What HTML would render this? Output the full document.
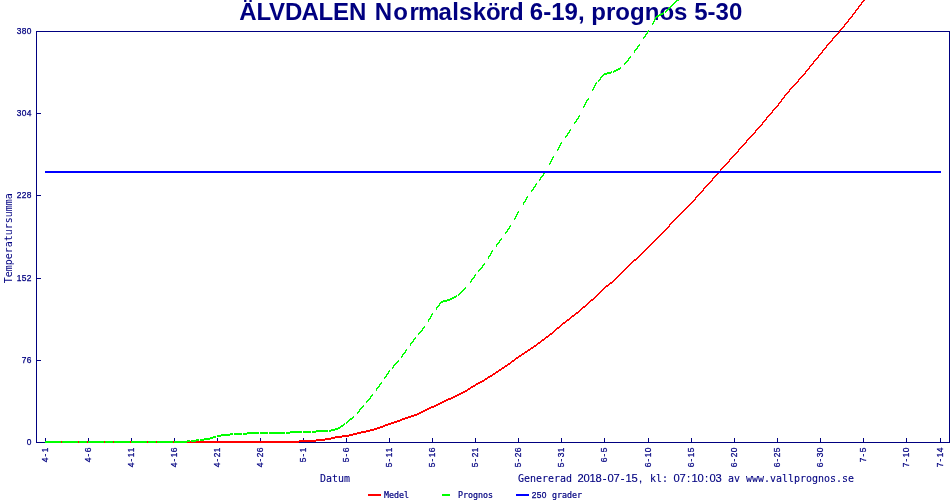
<!DOCTYPE html>
<html lang="sv"><head><meta charset="utf-8"><title>ÄLVDALEN Normalskörd</title>
<style>html,body{margin:0;padding:0;background:#fff;overflow:hidden}svg{display:block;will-change:transform}</style>
</head><body>
<svg width="950" height="500" viewBox="0 0 950 500">
<rect width="950" height="500" fill="#fff"/>
<text x="239.15 256.49 269.10 284.96 301.57 318.61 333.00 348.93 367.18 374.86 393.32 409.40 417.95 438.41 452.19 459.08 472.74 486.11 500.00 509.06 523.13 529.82 543.19 551.19 564.57 577.93 584.63 591.32 605.99 615.35 630.04 644.71 659.40 674.07 687.44 694.13 707.49 715.50 728.88" y="20" font-family="'Liberation Sans', Arial, sans-serif" font-weight="700" font-size="24" fill="#000080">ÄLVDALEN Normalskörd 6-19, prognos 5-30</text>
<path d="M36 31h914v1h-914zM36 442h914v1h-914zM36 31h1v412h-1zM949 31h1v412h-1zM37 442h4v1h-4zM37 360h4v1h-4zM37 278h4v1h-4zM37 195h4v1h-4zM37 113h4v1h-4zM37 31h4v1h-4zM45 438h1v4h-1zM88 438h1v4h-1zM131 438h1v4h-1zM174 438h1v4h-1zM217 438h1v4h-1zM260 438h1v4h-1zM303 438h1v4h-1zM346 438h1v4h-1zM389 438h1v4h-1zM432 438h1v4h-1zM475 438h1v4h-1zM518 438h1v4h-1zM561 438h1v4h-1zM604 438h1v4h-1zM648 438h1v4h-1zM691 438h1v4h-1zM734 438h1v4h-1zM777 438h1v4h-1zM820 438h1v4h-1zM863 438h1v4h-1zM906 438h1v4h-1zM940 438h1v4h-1z" fill="#000080" shape-rendering="crispEdges"/>
<path d="M45 442h254v1h-254zM45 441h271v1h-271zM299 440h26v1h-26zM316 439h15v1h-15zM325 438h10v1h-10zM331 437h11v1h-11zM335 436h14v1h-14zM342 435h11v1h-11zM349 434h8v1h-8zM353 433h8v1h-8zM357 432h9v1h-9zM361 431h9v1h-9zM366 430h8v1h-8zM370 429h7v1h-7zM374 428h6v1h-6zM377 427h6v1h-6zM380 426h5v1h-5zM383 425h5v1h-5zM385 424h6v1h-6zM388 423h6v1h-6zM391 422h6v1h-6zM394 421h6v1h-6zM397 420h5v1h-5zM400 419h5v1h-5zM402 418h6v1h-6zM405 417h6v1h-6zM408 416h6v1h-6zM411 415h6v1h-6zM414 414h5v1h-5zM417 413h4v1h-4zM419 412h4v1h-4zM421 411h4v1h-4zM423 410h4v1h-4zM425 409h4v1h-4zM427 408h4v1h-4zM429 407h5v1h-5zM431 406h5v1h-5zM434 405h4v1h-4zM436 404h4v1h-4zM438 403h4v1h-4zM440 402h4v1h-4zM442 401h4v1h-4zM444 400h4v1h-4zM446 399h5v1h-5zM448 398h5v1h-5zM451 397h4v1h-4zM453 396h4v1h-4zM455 395h4v1h-4zM457 394h4v1h-4zM459 393h4v1h-4zM461 392h4v1h-4zM463 391h4v1h-4zM465 390h3v1h-3zM467 389h3v1h-3zM468 388h3v1h-3zM470 387h3v1h-3zM471 386h4v1h-4zM473 385h3v1h-3zM475 384h3v1h-3zM476 383h4v1h-4zM478 382h4v1h-4zM480 381h4v1h-4zM482 380h3v1h-3zM484 379h3v1h-3zM485 378h3v1h-3zM487 377h3v1h-3zM488 376h4v1h-4zM490 375h3v1h-3zM492 374h3v1h-3zM493 373h3v1h-3zM495 372h3v1h-3zM496 371h3v1h-3zM498 370h3v1h-3zM499 369h3v1h-3zM501 368h3v1h-3zM502 367h3v1h-3zM504 366h3v1h-3zM505 365h3v1h-3zM507 364h3v1h-3zM508 363h3v1h-3zM510 362h2v1h-2zM511 361h3v1h-3zM512 360h3v1h-3zM514 359h2v1h-2zM515 358h3v1h-3zM516 357h3v1h-3zM518 356h3v1h-3zM519 355h3v1h-3zM521 354h3v1h-3zM522 353h3v1h-3zM524 352h3v1h-3zM525 351h3v1h-3zM527 350h3v1h-3zM528 349h3v1h-3zM530 348h3v1h-3zM531 347h3v1h-3zM533 346h3v1h-3zM534 345h3v1h-3zM536 344h2v1h-2zM537 343h3v1h-3zM538 342h3v1h-3zM540 341h2v1h-2zM541 340h3v1h-3zM542 339h3v1h-3zM544 338h2v1h-2zM545 337h3v1h-3zM546 336h3v1h-3zM548 335h2v1h-2zM549 334h3v1h-3zM550 333h3v1h-3zM552 332h2v1h-2zM553 331h2v1h-2zM554 330h2v1h-2zM555 329h2v1h-2zM556 328h3v1h-3zM557 327h3v1h-3zM559 326h2v1h-2zM560 325h2v1h-2zM561 324h2v1h-2zM562 323h3v1h-3zM563 322h3v1h-3zM565 321h2v1h-2zM566 320h3v1h-3zM567 319h3v1h-3zM569 318h2v1h-2zM570 317h2v1h-2zM571 316h3v1h-3zM572 315h3v1h-3zM574 314h2v1h-2zM575 313h3v1h-3zM576 312h3v1h-3zM578 311h2v1h-2zM579 310h2v1h-2zM580 309h2v1h-2zM581 308h2v1h-2zM582 307h3v1h-3zM583 306h3v1h-3zM585 305h2v1h-2zM586 304h2v1h-2zM587 303h2v1h-2zM588 302h2v1h-2zM589 301h2v1h-2zM590 300h3v1h-3zM591 299h3v1h-3zM593 298h2v1h-2zM594 297h2v1h-2zM595 296h2v1h-2zM596 295h2v1h-2zM597 294h2v1h-2zM598 293h2v1h-2zM599 292h2v1h-2zM600 291h2v1h-2zM601 290h2v1h-2zM602 289h2v1h-2zM603 288h2v1h-2zM604 287h2v1h-2zM605 286h3v1h-3zM606 285h3v1h-3zM608 284h2v1h-2zM609 283h3v1h-3zM610 282h3v1h-3zM612 281h2v1h-2zM613 280h2v1h-2zM614 279h2v1h-2zM615 278h2v1h-2zM616 277h2v1h-2zM617 276h2v1h-2zM618 275h2v1h-2zM619 274h2v1h-2zM620 273h2v1h-2zM621 272h2v1h-2zM622 271h2v1h-2zM623 270h2v1h-2zM624 269h2v1h-2zM625 268h2v1h-2zM626 267h2v1h-2zM627 266h2v1h-2zM628 265h2v1h-2zM629 264h2v1h-2zM630 263h2v1h-2zM631 262h2v1h-2zM632 261h2v1h-2zM633 260h3v1h-3zM634 259h3v1h-3zM636 258h2v1h-2zM637 257h2v1h-2zM638 256h2v1h-2zM639 255h2v1h-2zM640 254h2v1h-2zM641 253h2v1h-2zM642 252h2v1h-2zM643 251h2v1h-2zM644 250h2v1h-2zM645 249h2v1h-2zM646 248h2v1h-2zM647 247h2v1h-2zM648 246h2v1h-2zM649 245h2v1h-2zM650 244h2v1h-2zM651 243h2v1h-2zM652 242h2v1h-2zM653 241h2v1h-2zM654 240h2v1h-2zM655 239h2v1h-2zM656 238h2v1h-2zM657 237h2v1h-2zM658 236h2v1h-2zM659 235h2v1h-2zM660 234h2v1h-2zM661 233h2v1h-2zM662 232h2v1h-2zM663 231h2v1h-2zM664 230h2v1h-2zM665 229h2v1h-2zM666 228h2v1h-2zM667 227h2v1h-2zM668 226h2v1h-2zM669 225h1v1h-1zM669 224h2v1h-2zM670 223h2v1h-2zM671 222h2v1h-2zM672 221h2v1h-2zM673 220h2v1h-2zM674 219h2v1h-2zM675 218h2v1h-2zM676 217h2v1h-2zM677 216h2v1h-2zM678 215h2v1h-2zM679 214h2v1h-2zM680 213h2v1h-2zM681 212h2v1h-2zM682 211h2v1h-2zM683 210h2v1h-2zM684 209h2v1h-2zM685 208h2v1h-2zM686 207h2v1h-2zM687 206h2v1h-2zM688 205h2v1h-2zM689 204h2v1h-2zM690 203h2v1h-2zM691 202h2v1h-2zM692 201h2v1h-2zM693 200h2v1h-2zM694 199h2v1h-2zM695 198h1v1h-1zM695 197h2v1h-2zM696 196h2v1h-2zM697 195h2v1h-2zM698 194h2v1h-2zM699 193h2v1h-2zM700 192h2v1h-2zM701 191h2v1h-2zM702 190h2v1h-2zM703 189h1v1h-1zM703 188h2v1h-2zM704 187h2v1h-2zM705 186h2v1h-2zM706 185h2v1h-2zM707 184h2v1h-2zM708 183h2v1h-2zM709 182h2v1h-2zM710 181h2v1h-2zM711 180h2v1h-2zM712 179h1v1h-1zM712 178h2v1h-2zM713 177h2v1h-2zM714 176h2v1h-2zM715 175h2v1h-2zM716 174h2v1h-2zM717 173h2v1h-2zM718 172h2v1h-2zM719 171h2v1h-2zM720 170h1v1h-1zM720 169h2v1h-2zM721 168h2v1h-2zM722 167h2v1h-2zM723 166h2v1h-2zM724 165h2v1h-2zM725 164h2v1h-2zM726 163h2v1h-2zM727 162h2v1h-2zM728 161h2v1h-2zM729 160h1v1h-1zM729 159h2v1h-2zM730 158h2v1h-2zM731 157h2v1h-2zM732 156h2v1h-2zM733 155h2v1h-2zM734 154h2v1h-2zM735 153h2v1h-2zM736 152h2v1h-2zM737 151h2v1h-2zM738 150h1v1h-1zM738 149h2v1h-2zM739 148h2v1h-2zM740 147h2v1h-2zM741 146h2v1h-2zM742 145h2v1h-2zM743 144h2v1h-2zM744 143h2v1h-2zM745 142h2v1h-2zM746 141h1v1h-1zM746 140h2v1h-2zM747 139h2v1h-2zM748 138h2v1h-2zM749 137h2v1h-2zM750 136h2v1h-2zM751 135h2v1h-2zM752 134h2v1h-2zM753 133h2v1h-2zM754 132h2v1h-2zM755 131h1v1h-1zM755 130h2v1h-2zM756 129h2v1h-2zM757 128h2v1h-2zM758 127h2v1h-2zM759 126h2v1h-2zM760 125h2v1h-2zM761 124h2v1h-2zM762 123h1v1h-1zM762 122h2v1h-2zM763 121h2v1h-2zM764 120h2v1h-2zM765 119h2v1h-2zM766 118h1v1h-1zM766 117h2v1h-2zM767 116h2v1h-2zM768 115h2v1h-2zM769 114h2v1h-2zM770 113h2v1h-2zM771 112h2v1h-2zM772 111h1v1h-1zM772 110h2v1h-2zM773 109h2v1h-2zM774 108h2v1h-2zM775 107h2v1h-2zM776 106h2v1h-2zM777 105h2v1h-2zM778 104h1v1h-1zM778 103h2v1h-2zM779 102h2v1h-2zM780 101h2v1h-2zM781 100h1v1h-1zM781 99h2v1h-2zM782 98h2v1h-2zM783 97h2v1h-2zM784 96h1v1h-1zM784 95h2v1h-2zM785 94h2v1h-2zM786 93h2v1h-2zM787 92h2v1h-2zM788 91h2v1h-2zM789 90h1v1h-1zM789 89h2v1h-2zM790 88h2v1h-2zM791 87h2v1h-2zM792 86h2v1h-2zM793 85h2v1h-2zM794 84h2v1h-2zM795 83h2v1h-2zM796 82h2v1h-2zM797 81h2v1h-2zM798 80h1v1h-1zM798 79h2v1h-2zM799 78h2v1h-2zM800 77h2v1h-2zM801 76h2v1h-2zM802 75h2v1h-2zM803 74h2v1h-2zM804 73h2v1h-2zM805 72h1v1h-1zM805 71h2v1h-2zM806 70h2v1h-2zM807 69h2v1h-2zM808 68h2v1h-2zM809 67h1v1h-1zM809 66h2v1h-2zM810 65h2v1h-2zM811 64h2v1h-2zM812 63h2v1h-2zM813 62h1v1h-1zM813 61h2v1h-2zM814 60h2v1h-2zM815 59h2v1h-2zM816 58h2v1h-2zM817 57h2v1h-2zM818 56h1v1h-1zM818 55h2v1h-2zM819 54h2v1h-2zM820 53h2v1h-2zM821 52h2v1h-2zM822 51h1v1h-1zM822 50h2v1h-2zM823 49h2v1h-2zM824 48h2v1h-2zM825 47h2v1h-2zM826 46h1v1h-1zM826 45h2v1h-2zM827 44h2v1h-2zM828 43h2v1h-2zM829 42h2v1h-2zM830 41h2v1h-2zM831 40h2v1h-2zM832 39h1v1h-1zM832 38h2v1h-2zM833 37h2v1h-2zM834 36h2v1h-2zM835 35h2v1h-2zM836 34h2v1h-2zM837 33h2v1h-2zM838 32h2v1h-2zM839 31h1v1h-1zM839 30h2v1h-2zM840 29h2v1h-2zM841 28h2v1h-2zM842 27h2v1h-2zM843 26h2v1h-2zM844 25h1v1h-1zM844 24h2v1h-2zM845 23h2v1h-2zM846 22h2v1h-2zM847 21h2v1h-2zM848 20h1v1h-1zM848 19h2v1h-2zM849 18h2v1h-2zM850 17h2v1h-2zM851 16h2v1h-2zM852 15h1v1h-1zM852 14h2v1h-2zM853 13h2v1h-2zM854 12h2v1h-2zM855 11h1v1h-1zM855 10h2v1h-2zM856 9h2v1h-2zM857 8h2v1h-2zM858 7h1v1h-1zM858 6h2v1h-2zM859 5h2v1h-2zM860 4h2v1h-2zM861 3h1v1h-1zM861 2h2v1h-2zM862 1h2v1h-2zM863 0h2v1h-2z" fill="#ff0000" shape-rendering="crispEdges"/>
<path d="M45 441h16v2h-16zM62 441h16v2h-16zM79 441h8v2h-8zM88 441h16v2h-16zM105 441h8v2h-8zM114 441h16v2h-16zM131 441h16v2h-16zM148 441h8v2h-8zM157 441h16v2h-16zM174 442h13v1h-13zM174 441h16v1h-16zM187 440h3v1h-3zM191 441h5v1h-5zM191 440h8v1h-8zM196 439h3v1h-3zM200 440h4v1h-4zM200 439h10v1h-10zM204 438h9v1h-9zM210 437h6v1h-6zM213 436h3v1h-3zM217 436h4v1h-4zM217 435h13v1h-13zM221 434h12v1h-12zM230 433h3v1h-3zM234 433h8v2h-8zM243 434h4v1h-4zM243 433h16v1h-16zM247 432h12v1h-12zM260 432h8v2h-8zM269 432h16v2h-16zM286 433h4v1h-4zM286 432h16v1h-16zM290 431h12v1h-12zM303 431h8v2h-8zM312 432h4v1h-4zM312 431h16v1h-16zM316 430h12v1h-12zM329 431h2v1h-2zM329 430h6v1h-6zM331 429h7v1h-7zM335 428h5v1h-5zM338 427h3v1h-3zM340 426h3v1h-3zM341 425h3v1h-3zM343 424h2v1h-2zM344 423h1v1h-1zM346 423h1v1h-1zM346 422h2v1h-2zM347 421h2v1h-2zM348 420h2v1h-2zM349 419h3v1h-3zM350 418h3v1h-3zM352 417h2v1h-2zM353 416h1v1h-1zM357 413h1v1h-1zM357 412h2v1h-2zM358 411h2v1h-2zM359 410h1v1h-1zM359 409h2v1h-2zM360 408h2v1h-2zM361 407h2v1h-2zM362 406h2v1h-2zM363 405h1v1h-1zM366 402h1v1h-1zM366 401h2v1h-2zM367 400h2v1h-2zM368 399h2v1h-2zM369 398h2v1h-2zM370 397h1v1h-1zM370 396h2v1h-2zM371 395h2v1h-2zM372 394h1v1h-1zM376 389h1v2h-1zM376 388h2v1h-2zM377 387h2v1h-2zM378 386h2v1h-2zM379 385h1v1h-1zM379 384h2v1h-2zM380 383h2v1h-2zM381 382h1v1h-1zM384 378h1v1h-1zM384 377h2v1h-2zM385 376h2v1h-2zM386 375h1v1h-1zM386 374h2v1h-2zM387 373h2v1h-2zM388 372h1v1h-1zM388 371h2v1h-2zM389 370h1v1h-1zM392 368h1v1h-1zM392 367h2v1h-2zM393 366h1v1h-1zM393 365h2v1h-2zM394 364h2v1h-2zM395 363h2v1h-2zM396 362h2v1h-2zM397 361h2v1h-2zM398 360h1v1h-1zM401 357h1v1h-1zM401 356h2v1h-2zM402 355h1v1h-1zM402 354h2v1h-2zM403 353h2v1h-2zM404 352h2v1h-2zM405 351h1v1h-1zM405 350h2v1h-2zM406 349h1v1h-1zM410 344h1v2h-1zM410 343h2v1h-2zM411 342h2v1h-2zM412 341h2v1h-2zM413 340h1v1h-1zM413 339h2v1h-2zM414 338h2v1h-2zM415 337h1v1h-1zM418 334h1v1h-1zM418 333h2v1h-2zM419 332h2v1h-2zM420 331h2v1h-2zM421 330h2v1h-2zM422 329h1v1h-1zM422 328h2v1h-2zM423 327h2v1h-2zM424 326h1v1h-1zM428 320h1v2h-1zM428 319h2v1h-2zM429 318h2v1h-2zM430 317h1v1h-1zM430 316h2v1h-2zM431 315h1v1h-1zM431 314h2v1h-2zM432 313h1v1h-1zM436 308h1v2h-1zM436 307h2v1h-2zM437 306h2v1h-2zM438 305h2v1h-2zM439 304h1v1h-1zM439 303h2v1h-2zM440 302h3v1h-3zM441 301h6v1h-6zM443 300h7v1h-7zM447 299h5v1h-5zM450 298h4v1h-4zM452 297h4v1h-4zM454 296h3v1h-3zM456 295h1v1h-1zM458 295h1v1h-1zM458 294h2v1h-2zM459 293h2v1h-2zM460 292h2v1h-2zM461 291h2v1h-2zM462 290h2v1h-2zM463 289h2v1h-2zM464 288h2v1h-2zM465 287h1v1h-1zM470 282h1v1h-1zM470 281h2v1h-2zM471 280h1v1h-1zM471 279h2v1h-2zM472 278h2v1h-2zM473 277h2v1h-2zM474 276h1v1h-1zM474 275h2v1h-2zM475 274h1v1h-1zM478 271h1v1h-1zM478 270h2v1h-2zM479 269h2v1h-2zM480 268h2v1h-2zM481 267h2v1h-2zM482 266h1v1h-1zM482 265h2v1h-2zM483 264h2v1h-2zM484 263h1v1h-1zM488 257h1v2h-1zM488 256h2v1h-2zM489 255h2v1h-2zM490 254h1v1h-1zM490 253h2v1h-2zM491 252h1v1h-1zM491 251h2v1h-2zM492 250h1v1h-1zM496 245h1v2h-1zM496 244h2v1h-2zM497 243h2v1h-2zM498 242h2v1h-2zM499 241h1v1h-1zM499 240h2v1h-2zM500 239h2v1h-2zM501 238h1v1h-1zM505 233h1v1h-1zM505 232h2v1h-2zM506 231h2v1h-2zM507 230h1v1h-1zM507 229h2v1h-2zM508 228h2v1h-2zM509 227h1v1h-1zM509 226h2v1h-2zM510 225h1v1h-1zM514 219h1v1h-1zM514 218h2v1h-2zM515 217h1v1h-1zM515 216h2v1h-2zM516 215h1v1h-1zM516 214h2v1h-2zM517 213h1v1h-1zM517 212h2v1h-2zM518 211h1v1h-1zM523 203h1v2h-1zM523 202h2v1h-2zM524 201h2v1h-2zM525 200h1v1h-1zM525 199h2v1h-2zM526 198h1v1h-1zM526 197h2v1h-2zM527 196h1v1h-1zM531 191h1v1h-1zM531 190h2v1h-2zM532 189h2v1h-2zM533 188h1v1h-1zM533 187h2v1h-2zM534 186h2v1h-2zM535 185h1v1h-1zM535 184h2v1h-2zM536 183h1v1h-1zM539 180h1v1h-1zM539 179h2v1h-2zM540 178h1v1h-1zM540 177h2v1h-2zM541 176h2v1h-2zM542 175h2v1h-2zM543 174h1v1h-1zM543 173h2v1h-2zM544 172h1v1h-1zM549 164h1v1h-1zM549 163h2v1h-2zM550 162h1v1h-1zM550 161h2v1h-2zM551 160h1v1h-1zM551 159h2v1h-2zM552 158h1v1h-1zM552 157h2v1h-2zM553 156h1v1h-1zM557 150h1v1h-1zM557 149h2v1h-2zM558 148h1v1h-1zM558 147h2v1h-2zM559 146h1v1h-1zM559 145h2v1h-2zM560 144h1v1h-1zM560 143h2v1h-2zM561 142h1v1h-1zM565 137h1v1h-1zM565 136h2v1h-2zM566 135h2v1h-2zM567 134h1v1h-1zM567 133h2v1h-2zM568 132h2v1h-2zM569 131h1v1h-1zM569 130h2v1h-2zM570 129h1v1h-1zM574 123h1v1h-1zM574 122h2v1h-2zM575 121h2v1h-2zM576 120h1v1h-1zM576 119h2v1h-2zM577 118h2v1h-2zM578 117h1v1h-1zM578 116h2v1h-2zM579 115h1v1h-1zM583 107h1v1h-1zM583 106h2v1h-2zM584 105h1v1h-1zM584 104h2v1h-2zM585 103h1v1h-1zM585 102h2v1h-2zM586 101h1v1h-1zM586 100h2v1h-2zM587 99h2v1h-2zM588 98h1v1h-1zM592 90h1v1h-1zM592 89h2v1h-2zM593 88h1v1h-1zM593 87h2v1h-2zM594 86h1v1h-1zM594 85h2v1h-2zM595 84h1v1h-1zM595 83h2v1h-2zM596 82h1v1h-1zM598 81h1v1h-1zM598 80h2v1h-2zM599 79h2v1h-2zM600 78h1v1h-1zM600 77h2v1h-2zM601 76h2v1h-2zM602 75h2v1h-2zM603 74h4v1h-4zM604 73h7v1h-7zM607 72h5v1h-5zM611 71h1v1h-1zM613 72h1v1h-1zM613 71h3v1h-3zM614 70h4v1h-4zM616 69h4v1h-4zM618 68h3v1h-3zM620 67h1v1h-1zM624 64h1v1h-1zM624 63h2v1h-2zM625 62h2v1h-2zM626 61h2v1h-2zM627 60h2v1h-2zM628 59h1v1h-1zM628 58h2v1h-2zM629 57h2v1h-2zM630 56h1v1h-1zM634 51h1v2h-1zM634 50h2v1h-2zM635 49h2v1h-2zM636 48h2v1h-2zM637 47h1v1h-1zM637 46h2v1h-2zM638 45h2v1h-2zM639 44h1v1h-1zM643 38h1v1h-1zM643 37h2v1h-2zM644 36h2v1h-2zM645 35h1v1h-1zM645 34h2v1h-2zM646 33h2v1h-2zM647 32h1v1h-1zM647 31h2v1h-2zM648 30h1v1h-1zM652 24h1v1h-1zM652 23h2v1h-2zM653 22h1v1h-1zM653 21h2v1h-2zM654 20h1v1h-1zM654 19h2v1h-2zM655 18h1v1h-1zM655 17h2v1h-2zM656 16h3v1h-3zM657 15h4v1h-4zM659 14h4v1h-4zM661 13h3v1h-3zM663 12h1v1h-1zM665 12h1v1h-1zM665 11h2v1h-2zM666 10h2v1h-2zM667 9h2v1h-2zM668 8h2v1h-2zM669 7h2v1h-2zM670 6h2v1h-2zM671 5h2v1h-2zM672 4h2v1h-2zM673 3h2v1h-2zM674 2h2v1h-2zM675 1h2v1h-2zM676 0h3v1h-3z" fill="#00ff00" shape-rendering="crispEdges"/>
<path d="M45 171h896v2h-896z" fill="#0000ff" shape-rendering="crispEdges"/>
<path d="M368 494h13v2h-13z" fill="#ff0000" shape-rendering="crispEdges"/>
<path d="M442 494h8v2h-8z" fill="#00ff00" shape-rendering="crispEdges"/>
<path d="M516 494h13v2h-13z" fill="#0000ff" shape-rendering="crispEdges"/>
<g fill="#000080" ><text font-family="'Liberation Sans', Arial, sans-serif" font-size="8.4" text-anchor="middle" stroke="#000080" stroke-width="0.25" x="29" y="445">0</text></g>
<g fill="#000080" ><text font-family="'Liberation Sans', Arial, sans-serif" font-size="8.4" text-anchor="middle" stroke="#000080" stroke-width="0.25" x="24 29" y="363">76</text></g>
<g fill="#000080" ><text font-family="'Liberation Sans', Arial, sans-serif" font-size="8.4" text-anchor="middle" stroke="#000080" stroke-width="0.25" x="19 24 29" y="281">152</text></g>
<g fill="#000080" ><text font-family="'Liberation Sans', Arial, sans-serif" font-size="8.4" text-anchor="middle" stroke="#000080" stroke-width="0.25" x="19 24 29" y="198">228</text></g>
<g fill="#000080" ><text font-family="'Liberation Sans', Arial, sans-serif" font-size="8.4" text-anchor="middle" stroke="#000080" stroke-width="0.25" x="19 24 29" y="116">304</text></g>
<g fill="#000080" ><text font-family="'Liberation Sans', Arial, sans-serif" font-size="8.4" text-anchor="middle" stroke="#000080" stroke-width="0.25" x="19 24 29" y="34">380</text></g>
<g fill="#000080" transform="translate(48 462) rotate(-90)"><text font-family="'Liberation Sans', Arial, sans-serif" font-size="8.4" text-anchor="middle" stroke="#000080" stroke-width="0.25" x="2 7 12" y="0">4-1</text></g>
<g fill="#000080" transform="translate(91 462) rotate(-90)"><text font-family="'Liberation Sans', Arial, sans-serif" font-size="8.4" text-anchor="middle" stroke="#000080" stroke-width="0.25" x="2 7 12" y="0">4-6</text></g>
<g fill="#000080" transform="translate(134 467) rotate(-90)"><text font-family="'Liberation Sans', Arial, sans-serif" font-size="8.4" text-anchor="middle" stroke="#000080" stroke-width="0.25" x="2 7 12 17" y="0">4-11</text></g>
<g fill="#000080" transform="translate(177 467) rotate(-90)"><text font-family="'Liberation Sans', Arial, sans-serif" font-size="8.4" text-anchor="middle" stroke="#000080" stroke-width="0.25" x="2 7 12 17" y="0">4-16</text></g>
<g fill="#000080" transform="translate(220 467) rotate(-90)"><text font-family="'Liberation Sans', Arial, sans-serif" font-size="8.4" text-anchor="middle" stroke="#000080" stroke-width="0.25" x="2 7 12 17" y="0">4-21</text></g>
<g fill="#000080" transform="translate(263 467) rotate(-90)"><text font-family="'Liberation Sans', Arial, sans-serif" font-size="8.4" text-anchor="middle" stroke="#000080" stroke-width="0.25" x="2 7 12 17" y="0">4-26</text></g>
<g fill="#000080" transform="translate(306 462) rotate(-90)"><text font-family="'Liberation Sans', Arial, sans-serif" font-size="8.4" text-anchor="middle" stroke="#000080" stroke-width="0.25" x="2 7 12" y="0">5-1</text></g>
<g fill="#000080" transform="translate(349 462) rotate(-90)"><text font-family="'Liberation Sans', Arial, sans-serif" font-size="8.4" text-anchor="middle" stroke="#000080" stroke-width="0.25" x="2 7 12" y="0">5-6</text></g>
<g fill="#000080" transform="translate(392 467) rotate(-90)"><text font-family="'Liberation Sans', Arial, sans-serif" font-size="8.4" text-anchor="middle" stroke="#000080" stroke-width="0.25" x="2 7 12 17" y="0">5-11</text></g>
<g fill="#000080" transform="translate(435 467) rotate(-90)"><text font-family="'Liberation Sans', Arial, sans-serif" font-size="8.4" text-anchor="middle" stroke="#000080" stroke-width="0.25" x="2 7 12 17" y="0">5-16</text></g>
<g fill="#000080" transform="translate(478 467) rotate(-90)"><text font-family="'Liberation Sans', Arial, sans-serif" font-size="8.4" text-anchor="middle" stroke="#000080" stroke-width="0.25" x="2 7 12 17" y="0">5-21</text></g>
<g fill="#000080" transform="translate(521 467) rotate(-90)"><text font-family="'Liberation Sans', Arial, sans-serif" font-size="8.4" text-anchor="middle" stroke="#000080" stroke-width="0.25" x="2 7 12 17" y="0">5-26</text></g>
<g fill="#000080" transform="translate(564 467) rotate(-90)"><text font-family="'Liberation Sans', Arial, sans-serif" font-size="8.4" text-anchor="middle" stroke="#000080" stroke-width="0.25" x="2 7 12 17" y="0">5-31</text></g>
<g fill="#000080" transform="translate(607 462) rotate(-90)"><text font-family="'Liberation Sans', Arial, sans-serif" font-size="8.4" text-anchor="middle" stroke="#000080" stroke-width="0.25" x="2 7 12" y="0">6-5</text></g>
<g fill="#000080" transform="translate(651 467) rotate(-90)"><text font-family="'Liberation Sans', Arial, sans-serif" font-size="8.4" text-anchor="middle" stroke="#000080" stroke-width="0.25" x="2 7 12 17" y="0">6-10</text></g>
<g fill="#000080" transform="translate(694 467) rotate(-90)"><text font-family="'Liberation Sans', Arial, sans-serif" font-size="8.4" text-anchor="middle" stroke="#000080" stroke-width="0.25" x="2 7 12 17" y="0">6-15</text></g>
<g fill="#000080" transform="translate(737 467) rotate(-90)"><text font-family="'Liberation Sans', Arial, sans-serif" font-size="8.4" text-anchor="middle" stroke="#000080" stroke-width="0.25" x="2 7 12 17" y="0">6-20</text></g>
<g fill="#000080" transform="translate(780 467) rotate(-90)"><text font-family="'Liberation Sans', Arial, sans-serif" font-size="8.4" text-anchor="middle" stroke="#000080" stroke-width="0.25" x="2 7 12 17" y="0">6-25</text></g>
<g fill="#000080" transform="translate(823 467) rotate(-90)"><text font-family="'Liberation Sans', Arial, sans-serif" font-size="8.4" text-anchor="middle" stroke="#000080" stroke-width="0.25" x="2 7 12 17" y="0">6-30</text></g>
<g fill="#000080" transform="translate(866 462) rotate(-90)"><text font-family="'Liberation Sans', Arial, sans-serif" font-size="8.4" text-anchor="middle" stroke="#000080" stroke-width="0.25" x="2 7 12" y="0">7-5</text></g>
<g fill="#000080" transform="translate(909 467) rotate(-90)"><text font-family="'Liberation Sans', Arial, sans-serif" font-size="8.4" text-anchor="middle" stroke="#000080" stroke-width="0.25" x="2 7 12 17" y="0">7-10</text></g>
<g fill="#000080" transform="translate(943 467) rotate(-90)"><text font-family="'Liberation Sans', Arial, sans-serif" font-size="8.4" text-anchor="middle" stroke="#000080" stroke-width="0.25" x="2 7 12 17" y="0">7-14</text></g>
<g fill="#000080" ><text font-family="'DejaVu Sans Mono', 'Liberation Mono', monospace" font-size="8.0" stroke="#000080" stroke-width="0.2" textLength="25" lengthAdjust="spacingAndGlyphs" x="384" y="498">Medel</text></g>
<g fill="#000080" ><text font-family="'DejaVu Sans Mono', 'Liberation Mono', monospace" font-size="8.0" stroke="#000080" stroke-width="0.2" textLength="35" lengthAdjust="spacingAndGlyphs" x="458" y="498">Prognos</text></g>
<g fill="#000080" ><text font-family="'Liberation Sans', Arial, sans-serif" font-size="8.4" text-anchor="middle" stroke="#000080" stroke-width="0.25" x="534 539 544" y="498">250</text><text font-family="'DejaVu Sans Mono', 'Liberation Mono', monospace" font-size="8.0" stroke="#000080" stroke-width="0.2" textLength="30" lengthAdjust="spacingAndGlyphs" x="552" y="498">grader</text></g>
<g fill="#000080" ><text font-family="'DejaVu Sans Mono', 'Liberation Mono', monospace" font-size="11" stroke="#000080" stroke-width="0.1" textLength="30" lengthAdjust="spacingAndGlyphs" x="320" y="482">Datum</text></g>
<g fill="#000080" ><text font-family="'DejaVu Sans Mono', 'Liberation Mono', monospace" font-size="11" stroke="#000080" stroke-width="0.1" textLength="54" lengthAdjust="spacingAndGlyphs" x="518" y="482">Genererad</text><text font-family="'Liberation Sans', Arial, sans-serif" font-size="11.2" text-anchor="middle" stroke="#000080" stroke-width="0.15" x="580.5 586.5 592.5 598.5 604.5 610.5 616.5 622.5 628.5 634.5 640.5" y="482">2018-07-15,</text><text font-family="'DejaVu Sans Mono', 'Liberation Mono', monospace" font-size="11" stroke="#000080" stroke-width="0.1" textLength="18" lengthAdjust="spacingAndGlyphs" x="650" y="482">kl:</text><text font-family="'Liberation Sans', Arial, sans-serif" font-size="11.2" text-anchor="middle" stroke="#000080" stroke-width="0.15" x="676.5 682.5 688.5 694.5 700.5 706.5 712.5 718.5" y="482">07:10:03</text><text font-family="'DejaVu Sans Mono', 'Liberation Mono', monospace" font-size="11" stroke="#000080" stroke-width="0.1" textLength="12" lengthAdjust="spacingAndGlyphs" x="728" y="482">av</text><text font-family="'DejaVu Sans Mono', 'Liberation Mono', monospace" font-size="11" stroke="#000080" stroke-width="0.1" textLength="108" lengthAdjust="spacingAndGlyphs" x="746" y="482">www.vallprognos.se</text></g>
<g fill="#000080" transform="translate(12 283.33) rotate(-90)"><text font-family="'DejaVu Sans Mono', 'Liberation Mono', monospace" font-size="11" stroke="#000080" stroke-width="0" textLength="90" lengthAdjust="spacingAndGlyphs" x="0" y="0">Temperatursumma</text></g>
</svg>
</body></html>
